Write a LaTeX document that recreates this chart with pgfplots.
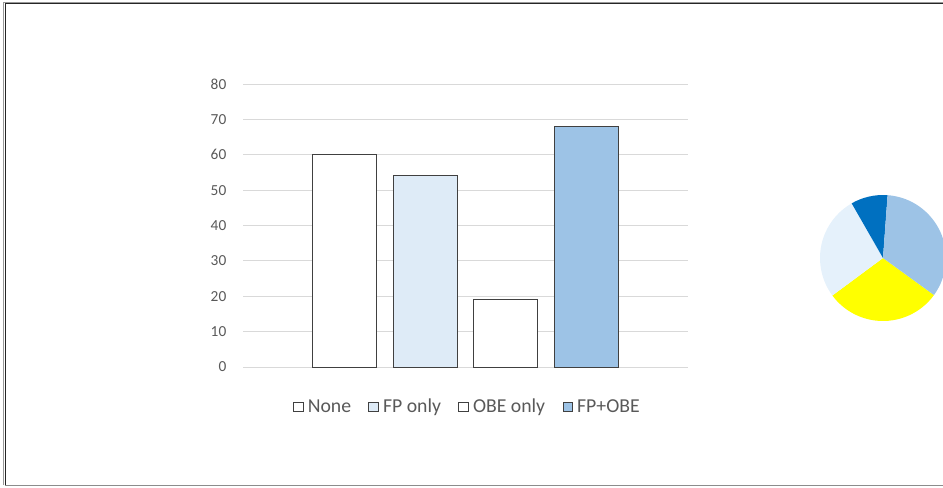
\documentclass[border=0pt]{standalone}
\usepackage{fontspec}
\setmainfont{Carlito}
\usepackage{pgfplots}
\usepackage{pgfplotstable}
\pgfplotsset{compat=1.18}

\definecolor{gridgray}{HTML}{D9D9D9}
\definecolor{labelgray}{HTML}{595959}
\definecolor{barborder}{HTML}{404040}
\definecolor{fplight}{HTML}{DEEBF7}
\definecolor{fpobe}{HTML}{9DC3E6}
\definecolor{pieyellow}{HTML}{FFFF00}
\definecolor{pielight}{HTML}{E5F1FB}
\definecolor{piemid}{HTML}{9DC3E6}
\definecolor{piedark}{HTML}{0070C0}

% counts per group (bars and pie share the same numbers)
\pgfplotstableread{
x label value
0 None    60
1 FPonly  54
2 OBEonly 19
3 FPOBE   68
}\groupdata

% pie slice angles; first slice starts 126 degrees clockwise from the top
\pgfplotstablegetelem{0}{value}\of\groupdata \let\vA\pgfplotsretval
\pgfplotstablegetelem{1}{value}\of\groupdata \let\vB\pgfplotsretval
\pgfplotstablegetelem{2}{value}\of\groupdata \let\vC\pgfplotsretval
\pgfplotstablegetelem{3}{value}\of\groupdata \let\vD\pgfplotsretval
\pgfmathsetmacro\tot{\vA+\vB+\vC+\vD}
\pgfmathsetmacro\aA{90-126}
\pgfmathsetmacro\aB{\aA-\vA/\tot*360}
\pgfmathsetmacro\aC{\aB-\vB/\tot*360}
\pgfmathsetmacro\aD{\aC-\vC/\tot*360}
\pgfmathsetmacro\aE{\aD-\vD/\tot*360}

\newcommand\pieR{47.25pt}

\begin{document}
\begin{tikzpicture}
\path[use as bounding box, clip] (0,0) rectangle (707.25pt,365.25pt);

% outer frame
\draw[black!85, line width=1.1pt] (4.1pt,1.2pt) -- (4.1pt,362.6pt) -- (720pt,362.6pt);
\draw[black!40, line width=0.6pt] (2.9pt,1.2pt) -- (2.9pt,363.8pt) -- (720pt,363.8pt);
\draw[black!45, line width=0.9pt] (4.1pt,1.2pt) -- (720pt,1.2pt);

\begin{axis}[
  at={(182.25pt,90pt)}, anchor=south west,
  scale only axis, width=333.75pt, height=212.25pt,
  xmin=-1.25, xmax=4.25, ymin=0, ymax=80,
  ytick={0,10,...,80}, xtick=\empty,
  axis line style={draw=none},
  ymajorgrids, grid style={gridgray, line width=0.75pt},
  major tick length=0pt,
  yticklabel style={font=\fontsize{11.5}{13}\selectfont, text=labelgray, anchor=east, xshift=-9pt},
  /pgf/number format/assume math mode=true,
  ybar, bar width=48pt, bar shift=0pt,
  clip=false,
  legend columns=-1,
  legend style={draw=none, fill=none, at={(0.505,-0.141)}, anchor=center,
    font=\fontsize{14.8}{16}\selectfont, text=labelgray,
    /tikz/every odd column/.append style={column sep=1.2pt},
    /tikz/every even column/.append style={column sep=11pt},
    inner sep=0pt},
  legend image code/.code={\draw[#1, draw=barborder, line width=0.6pt] (0pt,-3.6pt) rectangle (7.2pt,3.6pt);},
]
\addplot[fill=white, draw=barborder, line width=0.75pt]
  table[x=x, y=value, skip coords between index={1}{4}] {\groupdata};
\addlegendentry{None}
\addplot[fill=fplight, draw=barborder, line width=0.75pt]
  table[x=x, y=value, skip coords between index={0}{1}, skip coords between index={2}{4}] {\groupdata};
\addlegendentry{FP only}
\addplot[fill=white, draw=barborder, line width=0.75pt]
  table[x=x, y=value, skip coords between index={0}{2}, skip coords between index={3}{4}] {\groupdata};
\addlegendentry{OBE only}
\addplot[fill=fpobe, draw=barborder, line width=0.75pt]
  table[x=x, y=value, skip coords between index={0}{3}] {\groupdata};
\addlegendentry{FP+OBE}
\end{axis}

\begin{axis}[
  at={(662.25pt,171.75pt)}, anchor=origin,
  x=\pieR, y=\pieR, xmin=-1, xmax=1, ymin=-1, ymax=1,
  hide axis, clip=false,
]
\fill[pieyellow] (axis cs:0,0) -- (axis cs:{cos(\aA)},{sin(\aA)}) arc[start angle=\aA, end angle=\aB, radius=\pieR] -- cycle;
\fill[pielight] (axis cs:0,0) -- (axis cs:{cos(\aB)},{sin(\aB)}) arc[start angle=\aB, end angle=\aC, radius=\pieR] -- cycle;
\fill[piedark] (axis cs:0,0) -- (axis cs:{cos(\aC)},{sin(\aC)}) arc[start angle=\aC, end angle=\aD, radius=\pieR] -- cycle;
\fill[piemid] (axis cs:0,0) -- (axis cs:{cos(\aD)},{sin(\aD)}) arc[start angle=\aD, end angle=\aE, radius=\pieR] -- cycle;
\end{axis}
\end{tikzpicture}
\end{document}
